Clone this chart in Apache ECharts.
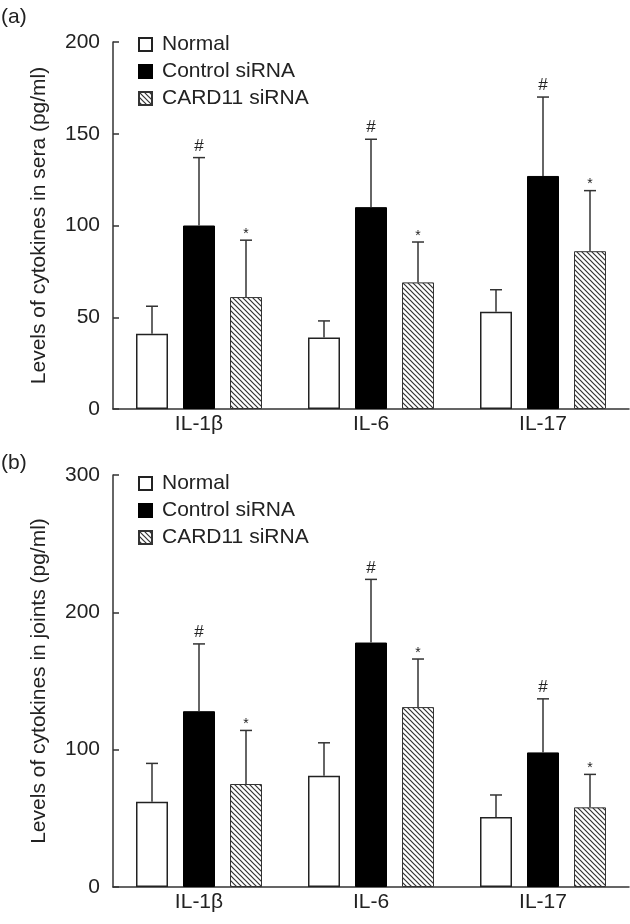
<!DOCTYPE html>
<html>
<head>
<meta charset="utf-8">
<script src="https://cdn.jsdelivr.net/npm/echarts@6/dist/echarts.min.js"></script>
<style>
html,body{margin:0;padding:0;background:#fff;}
#c{width:630px;height:924px;}
</style>
</head>
<body>
<div id="c"></div>
<script>
const categories = ['IL-1β', 'IL-6', 'IL-17'];
const groups = ['Normal', 'Control siRNA', 'CARD11 siRNA'];

const seraNormal = [41, 39, 53];
const seraNormalSD = [15, 9, 12];
const seraControl = [100, 110, 127];
const seraControlSD = [37, 37, 43];
const seraCard = [61, 69, 86];
const seraCardSD = [31, 22, 33];

const jointNormal = [62, 81, 51];
const jointNormalSD = [28, 24, 16];
const jointControl = [128, 178, 98];
const jointControlSD = [49, 46, 39];
const jointCard = [75, 131, 58];
const jointCardSD = [39, 35, 24];

const normalMarks = ['', '', ''];
const controlMarks = ['#', '#', '#'];
const cardMarks = ['*', '*', '*'];

const seraAxis = {min: 0, max: 200, interval: 50};
const jointAxis = {min: 0, max: 300, interval: 100};

const seraTitle = 'Levels of cytokines in sera (pg/ml)';
const jointTitle = 'Levels of cytokines in joints (pg/ml)';
const panelLabels = ['(a)', '(b)'];

const FONT = "'Liberation Sans', Arial, Helvetica, sans-serif";
const FS = 21;
const TXT = '#222';
const AX = '#333';
const BAR_W = 32;
const BAR_GAP = 15;

function hatchPattern() {
  const s = 5;
  const c = document.createElement('canvas');
  c.width = s; c.height = s;
  const ctx = c.getContext('2d');
  ctx.fillStyle = '#fff';
  ctx.fillRect(0, 0, s, s);
  ctx.strokeStyle = '#333';
  ctx.lineWidth = 1.2;
  ctx.beginPath();
  ctx.moveTo(-1, -1); ctx.lineTo(s + 1, s + 1);
  ctx.moveTo(-1, s - 1); ctx.lineTo(1, s + 1);
  ctx.moveTo(s - 1, -1); ctx.lineTo(s + 1, 1);
  ctx.stroke();
  return {image: c, repeat: 'repeat'};
}
const hatch = hatchPattern();

const styles = [
  {color: '#fff', borderColor: '#222', borderWidth: 1.5},
  {color: '#000', borderColor: '#000', borderWidth: 1},
  {color: hatch, borderColor: '#333', borderWidth: 1}
];

function barSeries(idx, gi, name, vals) {
  return {
    type: 'bar', name: name, xAxisIndex: idx, yAxisIndex: idx,
    data: vals, barWidth: BAR_W, barGap: (BAR_GAP / BAR_W * 100) + '%',
    itemStyle: styles[gi], silent: true, animation: false
  };
}

function errSeries(idx, gi, vals, sds, marks) {
  const data = vals.map((v, i) => [i, v, v + sds[i], marks[i]]);
  const off = (gi - 1) * (BAR_W + BAR_GAP);
  return {
    type: 'custom', name: 'err' + idx + gi, xAxisIndex: idx, yAxisIndex: idx,
    data: data, silent: true, animation: false, z: 5,
    renderItem: function (params, api) {
      const ci = api.value(0);
      const p0 = api.coord([ci, api.value(1)]);
      const p1 = api.coord([ci, api.value(2)]);
      const x = p0[0] + off;
      const mark = marks[params.dataIndex];
      const children = [
        {type: 'line', shape: {x1: x, y1: p0[1], x2: x, y2: p1[1]}, style: {stroke: AX, lineWidth: 1.5}},
        {type: 'line', shape: {x1: x - 6, y1: p1[1], x2: x + 6, y2: p1[1]}, style: {stroke: AX, lineWidth: 1.5}}
      ];
      if (mark) {
        children.push({
          type: 'text', x: x, y: mark === '#' ? p1[1] - 3 : p1[1] + 1,
          style: {text: mark, fill: TXT, font: (mark === '#' ? '17px ' : '14px ') + FONT, align: 'center', verticalAlign: 'bottom'}
        });
      }
      return {type: 'group', children: children};
    }
  };
}

const grids = [
  {left: 113, right: 1, top: 42, height: 367},
  {left: 113, right: 1, top: 475, height: 412}
];

function xAx(idx) {
  return {
    type: 'category', gridIndex: idx, data: categories,
    axisLine: {lineStyle: {color: AX, width: 1.5}},
    axisTick: {show: false},
    axisLabel: {color: TXT, fontSize: FS, fontFamily: FONT, margin: 5},
    splitLine: {show: false}
  };
}
function yAx(idx, ax, title) {
  return {
    type: 'value', gridIndex: idx, min: ax.min, max: ax.max, interval: ax.interval,
    name: title, nameLocation: 'middle', nameGap: 63,
    nameTextStyle: {color: TXT, fontSize: FS, fontFamily: FONT},
    axisLine: {show: true, lineStyle: {color: AX, width: 1.5}},
    axisTick: {show: true, inside: true, length: 6, lineStyle: {color: AX, width: 1.5}},
    axisLabel: {color: TXT, fontSize: FS, fontFamily: FONT, margin: 13},
    splitLine: {show: false}
  };
}

function legend(top) {
  return {
    left: 133, top: top, orient: 'vertical', itemWidth: 13, itemHeight: 13, itemGap: 6,
    icon: 'rect', data: groups, selectedMode: false,
    textStyle: {color: TXT, fontSize: FS, fontFamily: FONT, padding: [0, 0, 0, 5], lineHeight: 21}
  };
}

const series = [
  barSeries(0, 0, groups[0], seraNormal),
  barSeries(0, 1, groups[1], seraControl),
  barSeries(0, 2, groups[2], seraCard),
  errSeries(0, 0, seraNormal, seraNormalSD, normalMarks),
  errSeries(0, 1, seraControl, seraControlSD, controlMarks),
  errSeries(0, 2, seraCard, seraCardSD, cardMarks),
  barSeries(1, 0, groups[0], jointNormal),
  barSeries(1, 1, groups[1], jointControl),
  barSeries(1, 2, groups[2], jointCard),
  errSeries(1, 0, jointNormal, jointNormalSD, normalMarks),
  errSeries(1, 1, jointControl, jointControlSD, controlMarks),
  errSeries(1, 2, jointCard, jointCardSD, cardMarks)
];

const chart = echarts.init(document.getElementById('c'), null, {renderer: 'canvas'});
chart.setOption({
  animation: false,
  backgroundColor: '#fff',
  title: [
    {text: panelLabels[0], left: -4, top: 2, textStyle: {color: TXT, fontSize: FS, fontWeight: 'normal', fontFamily: FONT}},
    {text: panelLabels[1], left: -4, top: 448, textStyle: {color: TXT, fontSize: FS, fontWeight: 'normal', fontFamily: FONT}}
  ],
  legend: [legend(29), legend(468)],
  grid: grids,
  xAxis: [xAx(0), xAx(1)],
  yAxis: [yAx(0, seraAxis, seraTitle), yAx(1, jointAxis, jointTitle)],
  series: series
});
</script>
</body>
</html>
